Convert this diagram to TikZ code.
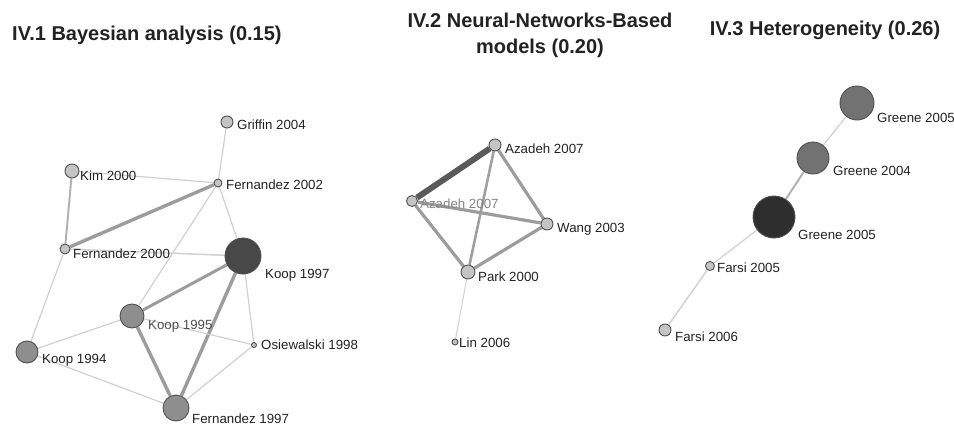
\documentclass[tikz,border=0pt]{standalone}
\usepackage{fontspec}
\setmainfont{Liberation Sans}
\usetikzlibrary{backgrounds}
\definecolor{lightfill}{HTML}{C4C4C4}
\definecolor{midfill}{HTML}{8E8E8E}
\definecolor{darkfill}{HTML}{484848}
\definecolor{greyfill}{HTML}{727272}
\definecolor{blackfill}{HTML}{2E2E2E}
\definecolor{outline}{HTML}{505050}
\definecolor{thinc}{HTML}{D0D0D0}
\definecolor{medc}{HTML}{B2B2B2}
\definecolor{thickc}{HTML}{9C9C9C}
\definecolor{heavyc}{HTML}{5A5A5A}
\definecolor{labc}{HTML}{222222}
\definecolor{titc}{HTML}{222222}
\tikzset{
  vert/.style={circle, draw=outline, line width=0.9pt, inner sep=0pt, minimum size=#1},
  lab/.style={anchor=base west, inner sep=0pt, text=labc, font=\fontsize{13.3}{14}\selectfont},
  ttl/.style={text=titc, font=\fontsize{20}{26}\selectfont\bfseries, inner sep=0pt},
  thinE/.style={draw=thinc, line width=1.2pt},
  medE/.style={draw=medc, line width=2pt},
  thickE/.style={draw=thickc, line width=3.4pt},
  heavyE/.style={draw=heavyc, line width=6pt},
}
\begin{document}
\begin{tikzpicture}[x=1pt,y=-1pt]
\useasboundingbox (0,0) rectangle (954,426);
% titles
\node[ttl, anchor=base west] (t1) at (12,40) {IV.1 Bayesian analysis (0.15)};
\node[ttl, anchor=base, align=center] (t2) at (540,53) {IV.2 Neural-Networks-Based\\models (0.20)};
\node[ttl, anchor=base] (t3) at (825,35) {IV.3 Heterogeneity (0.26)};

% ---------- panel 1 ----------
\node[vert=12pt, fill=lightfill] (g04) at (227,122) {};
\node[vert=14pt, fill=lightfill] (k00) at (72,171) {};
\node[vert=8pt, fill=lightfill] (f02) at (218,183) {};
\node[vert=10pt, fill=lightfill] (f00) at (65,249) {};
\node[vert=36pt, fill=darkfill] (k97) at (243,256) {};
\node[vert=24pt, fill=midfill] (k95) at (132,316) {};
\node[vert=5pt, fill=lightfill] (o98) at (254,345) {};
\node[vert=22pt, fill=midfill] (k94) at (27,352) {};
\node[vert=26pt, fill=midfill] (f97) at (176,408) {};

% ---------- panel 2 ----------
\node[vert=12pt, fill=lightfill] (azT) at (495,145) {};
\node[vert=11pt, fill=lightfill] (azL) at (412,201) {};
\node[vert=12pt, fill=lightfill] (w03) at (547,224) {};
\node[vert=14pt, fill=lightfill] (p00) at (468,272) {};
\node[vert=6pt, fill=lightfill] (l06) at (455,342) {};

% ---------- panel 3 ----------
\node[vert=34pt, fill=greyfill] (grT) at (857,103) {};
\node[vert=32pt, fill=greyfill] (gr04) at (813,158) {};
\node[vert=42pt, fill=blackfill] (gr05) at (774,217) {};
\node[vert=9pt, fill=lightfill] (fa05) at (710,266) {};
\node[vert=12pt, fill=lightfill] (fa06) at (665,330) {};

\begin{scope}[on background layer]
  % panel 1 edges
  \draw[thinE] (g04) -- (f02);
  \draw[thinE] (k00) -- (f02);
  \draw[medE] (k00) -- (f00);
  \draw[thickE] (f00) -- (f02);
  \draw[thinE] (f02) -- (k97);
  \draw[thinE] (f02) -- (k95);
  \draw[thinE, line width=1.5pt] (f00) -- (k97);
  \draw[thinE] (f00) -- (k94);
  \draw[thickE, line width=3pt] (k97) -- (k95);
  \draw[thickE] (k97) -- (f97);
  \draw[thinE] (k97) -- (o98);
  \draw[thinE] (k95) -- (k94);
  \draw[thinE] (k95) -- (o98);
  \draw[thickE] (k95) -- (f97);
  \draw[thinE] (k94) -- (f97);
  \draw[thinE] (o98) -- (f97);
  % panel 2 edges
  \draw[heavyE] (azT) -- (azL);
  \draw[thickE, line width=3.2pt] (azT) -- (w03);
  \draw[thickE, line width=2.6pt, draw=medc!90!black] (azT) -- (p00);
  \draw[thickE, line width=3.2pt] (azL) -- (w03);
  \draw[thickE, line width=3.2pt] (azL) -- (p00);
  \draw[thickE, line width=3.2pt] (w03) -- (p00);
  \draw[thinE, line width=1pt] (p00) -- (l06);
  % panel 3 edges
  \draw[thinE] (grT) -- (gr04);
  \draw[medE] (gr04) -- (gr05);
  \draw[thinE] (gr05) -- (fa05);
  \draw[thinE, line width=1.4pt] (fa05) -- (fa06);
\end{scope}

% labels panel 1
\node[lab] (lg04) at (237,129) {Griffin 2004};
\node[lab] (lk00) at (80,180) {Kim 2000};
\node[lab] (lf02) at (226,189) {Fernandez 2002};
\node[lab] (lf00) at (73,258) {Fernandez 2000};
\node[lab] (lk97) at (265,278) {Koop 1997};
\node[lab, text=labc!80] (lk95) at (148,329) {Koop 1995};
\node[lab] (lo98) at (261,349) {Osiewalski 1998};
\node[lab] (lk94) at (42,363) {Koop 1994};
\node[lab] (lf97) at (192,423) {Fernandez 1997};
% labels panel 2
\node[lab] (lazT) at (505,153) {Azadeh 2007};
\node[lab, text=labc!55] (lazL) at (420,208) {Azadeh 2007};
\node[lab] (lw03) at (557,232) {Wang 2003};
\node[lab] (lp00) at (478,281) {Park 2000};
\node[lab] (ll06) at (459,347) {Lin 2006};
% labels panel 3
\node[lab] (lgrT) at (877,122) {Greene 2005};
\node[lab] (lgr04) at (833,175) {Greene 2004};
\node[lab] (lgr05) at (798,239) {Greene 2005};
\node[lab] (lfa05) at (717,272) {Farsi 2005};
\node[lab] (lfa06) at (675,341) {Farsi 2006};
\end{tikzpicture}
\end{document}
